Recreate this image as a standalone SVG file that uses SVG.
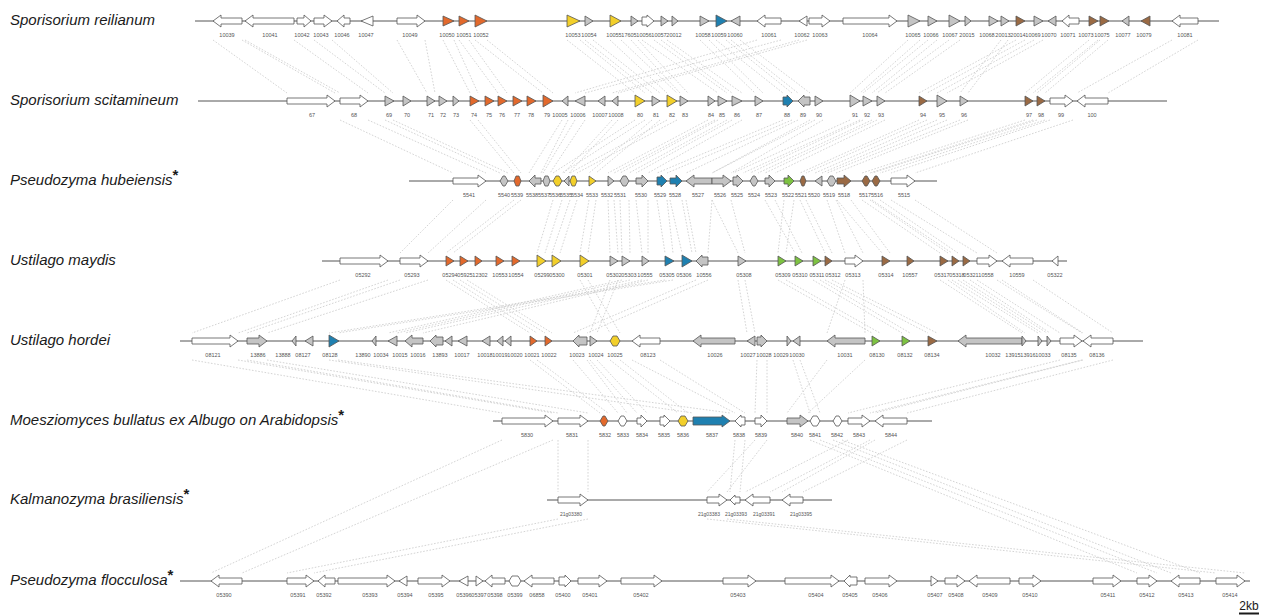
<svg xmlns="http://www.w3.org/2000/svg" width="1266" height="616" viewBox="0 0 1266 616">
<style>
.bg{fill:#fff}
.ln{stroke:#555;stroke-width:1}
.gene path{stroke:#555;stroke-width:0.8;stroke-linejoin:miter}
.w{fill:#fff}.gr{fill:#c4c4c4}.o{fill:#e2692c}.y{fill:#f2cf2a}.b{fill:#1f80b0}.gn{fill:#7dc242}.br{fill:#9a6a44}
.lb{font-family:"Liberation Sans",Arial,sans-serif;font-size:5.5px;fill:#555;text-anchor:middle}
.lb7{font-size:5px}
.sp{font-family:"Liberation Sans",Arial,sans-serif;font-size:15px;font-style:italic;fill:#1a1a1a}
.ast{font-style:normal;font-weight:bold}
.cn{stroke:#c9c9c9;stroke-width:0.8;stroke-dasharray:1.6 1.6;fill:none}
.sc{font-family:"Liberation Sans",Arial,sans-serif;font-size:12px;fill:#1a1a1a;text-anchor:middle}
</style>
<rect class="bg" x="0" y="0" width="1266" height="616"/>
<g id="connectors">
<path class="cn" d="M213,40L287,93M242,40L335,93M245,40L340,93M294,40L368,93M314,40L385,93M332,40L393,93M397,40L427,93M425,40L435,93M443,40L470,93M454,40L478,93M459,40L498,93M469,40L507,93M475,40L543,93M487,40L553,93M567,40L635,93M580,40L645,93M585,40L652,93M593,40L660,93M610,40L667,93M621,40L677,93M631,40L680,93M638,40L688,93M642,40L718,93M654,40L727,93M661,40L732,93M667,40L742,93M700,40L755,93M709,40L763,93M716,40L783,93M726,40L792,93M731,40L798,93M740,40L810,93M757,40L575,93M781,40L585,93M799,40L612,93M807,40L618,93M908,40L850,93M920,40L860,93M928,40L863,93M937,40L872,93M949,40L877,93M960,40L885,93M1001,40L960,93M1008,40L968,93M1016,40L919,93M1025,40L927,93M1034,40L937,93M1043,40L947,93M1089,40L1025,93M1098,40L1033,93M1100,40L1037,93M1108,40L1045,93M1172,40L1077,93M1198,40L1108,93"/>
<path class="cn" d="M340,120L453,173M368,120L486,173M385,120L500,173M393,120L508,173M470,120L514,173M478,120L521,173M562,120L529,173M568,120L541,173M575,120L543,173M585,120L550,173M635,120L553,173M645,120L562,173M612,120L564,173M618,120L569,173M667,120L570,173M677,120L577,173M652,120L589,173M660,120L596,173M708,120L608,173M715,120L614,173M718,120L620,173M727,120L629,173M732,120L636,173M742,120L648,173M783,120L657,173M792,120L667,173M798,120L686,173M810,120L712,173M815,120L712,173M823,120L731,173M850,120L733,173M860,120L743,173M863,120L750,173M872,120L758,173M877,120L765,173M885,120L775,173M919,120L800,173M927,120L806,173M937,120L815,173M947,120L822,173M960,120L827,173M968,120L836,173M1025,120L862,173M1033,120L870,173M1037,120L872,173M1045,120L880,173M1050,120L891,173M1073,120L915,173"/>
<path class="cn" d="M453,200L400,253M486,200L428,253M514,200L446,253M521,200L453,253M553,200L537,253M562,200L545,253M570,200L552,253M577,200L560,253M589,200L580,253M596,200L588,253M608,200L610,253M614,200L618,253M620,200L622,253M629,200L630,253M636,200L642,253M648,200L648,253M657,200L665,253M667,200L673,253M670,200L682,253M682,200L692,253M686,200L696,253M712,200L708,253M712,200L738,253M731,200L745,253M784,200L778,253M794,200L786,253M765,200L795,253M775,200L802,253M800,200L825,253M806,200L832,253M827,200L845,253M836,200L863,253M837,200L882,253M851,200L890,253M862,200L940,253M870,200L948,253M872,200L952,253M880,200L958,253M891,200L977,253M915,200L997,253"/>
<path class="cn" d="M340,280L192,333M388,280L238,333M400,280L247,333M428,280L267,333M446,280L530,333M453,280L537,333M460,280L545,333M467,280L552,333M580,280L610,333M588,280L620,333M665,280L329,333M673,280L338,333M610,280L590,333M618,280L597,333M696,280L573,333M708,280L587,333M622,280L388,333M630,280L397,333M642,280L405,333M648,280L423,333M738,280L747,333M745,280L755,333M778,280L872,333M786,280L880,333M813,280L902,333M820,280L910,333M825,280L928,333M832,280L937,333M845,280L827,333M863,280L865,333M940,280L1022,333M948,280L1025,333M952,280L1038,333M958,280L1042,333M963,280L1047,333M970,280L1050,333M977,280L1060,333M997,280L1082,333M1002,280L1083,333M1033,280L1113,333"/>
<path class="cn" d="M192,360L502,413M238,360L553,413M247,360L558,413M267,360L588,413M530,360L600,413M537,360L608,413M573,360L618,413M587,360L627,413M590,360L637,413M597,360L647,413M610,360L678,413M620,360L688,413M329,360L693,413M338,360L730,413M632,360L735,413M660,360L745,413M757,360L755,413M767,360L767,413M827,360L787,413M865,360L808,413M793,360L810,413M800,360L820,413M1060,360L848,413M1082,360L870,413M1083,360L875,413M1113,360L907,413"/>
<path class="cn" d="M558,440L558,492M588,440L588,492M755,440L707,492M767,440L727,492M735,440L730,492M745,440L740,492M848,440L745,492M870,440L770,492M875,440L782,492M907,440L803,492M502,440L211,573M553,440L242,573M810,440L1137,573M820,440L1157,573M833,440L1171,573M842,440L1200,573"/>
<path class="cn" d="M558,519L287,573M588,519L314,573M707,519L1216,573M727,519L1245,573"/>
</g>
<g id="species">
<text class="sp" x="10" y="25">Sporisorium reilianum</text>
<text class="sp" x="10" y="105">Sporisorium scitamineum</text>
<text class="sp" x="10" y="185">Pseudozyma hubeiensis<tspan class="ast" dy="-5">*</tspan></text>
<text class="sp" x="10" y="265">Ustilago maydis</text>
<text class="sp" x="10" y="345">Ustilago hordei</text>
<text class="sp" x="10" y="425">Moesziomyces bullatus ex Albugo on Arabidopsis<tspan class="ast" dy="-5">*</tspan></text>
<text class="sp" x="10" y="504">Kalmanozyma brasiliensis<tspan class="ast" dy="-5">*</tspan></text>
<text class="sp" x="10" y="585">Pseudozyma flocculosa<tspan class="ast" dy="-5">*</tspan></text>
</g>
<g id="row1" transform="translate(0,21)">
<line class="ln" x1="195" y1="0" x2="1219" y2="0"/>
<g id="r1-10039" class="gene"><path class="w" d="M213,0L221,-6V-3H242V3H221V6Z"/><text class="lb" x="227" y="16">10039</text></g>
<g id="r1-10041" class="gene"><path class="w" d="M245,0L253,-6V-3H294V3H253V6Z"/><text class="lb" x="270" y="16">10041</text></g>
<g id="r1-10042" class="gene"><path class="w" d="M297,-3H304V-6L311,0L304,6V3H297Z"/><text class="lb" x="302" y="16">10042</text></g>
<g id="r1-10043" class="gene"><path class="w" d="M314,-3H324V-6L332,0L324,6V3H314Z"/><text class="lb" x="321" y="16">10043</text></g>
<g id="r1-10046" class="gene"><path class="w" d="M337,0L344,-6V-3H350V3H344V6Z"/><text class="lb" x="342" y="16">10046</text></g>
<g id="r1-10047" class="gene"><path class="w" d="M373,-5L361,0L373,5Z"/><text class="lb" x="366" y="16">10047</text></g>
<g id="r1-10049" class="gene"><path class="w" d="M397,-3H417V-6L425,0L417,6V3H397Z"/><text class="lb" x="410" y="16">10049</text></g>
<g id="r1-10050" class="gene"><path class="o" d="M443,-5L454,0L443,5Z"/><text class="lb" x="447" y="16">10050</text></g>
<g id="r1-10051" class="gene"><path class="o" d="M459,-5L469,0L459,5Z"/><text class="lb" x="464" y="16">10051</text></g>
<g id="r1-10052" class="gene"><path class="o" d="M475,-6L487,0L475,6Z"/><text class="lb" x="481" y="16">10052</text></g>
<g id="r1-10053" class="gene"><path class="y" d="M567,-6L580,0L567,6Z"/><text class="lb" x="573" y="16">10053</text></g>
<g id="r1-10054" class="gene"><path class="gr" d="M585,-5L593,0L585,5Z"/><text class="lb" x="589" y="16">10054</text></g>
<g id="r1-10055" class="gene"><path class="y" d="M610,-6L621,0L610,6Z"/><text class="lb" x="614" y="16">10055</text></g>
<g id="r1-17605" class="gene"><path class="gr" d="M631,-5L638,0L631,5Z"/><text class="lb" x="629" y="16">17605</text></g>
<g id="r1-10056" class="gene"><path class="w" d="M642,-4H647V-6L654,0L647,6V4H642Z"/><text class="lb" x="644" y="16">10056</text></g>
<g id="r1-10057" class="gene"><path class="gr" d="M661,-5L668,0L661,5Z"/><text class="lb" x="659" y="16">10057</text></g>
<g id="r1-20012" class="gene"><path class="gr" d="M672,-5L678,0L672,5Z"/><text class="lb" x="674" y="16">20012</text></g>
<g id="r1-10058" class="gene"><path class="gr" d="M700,-5L709,0L700,5Z"/><text class="lb" x="703" y="16">10058</text></g>
<g id="r1-10059" class="gene"><path class="b" d="M716,-6L727,0L716,6Z"/><text class="lb" x="719" y="16">10059</text></g>
<g id="r1-10060" class="gene"><path class="gr" d="M740,-5L731,0L740,5Z"/><text class="lb" x="735" y="16">10060</text></g>
<g id="r1-10061" class="gene"><path class="w" d="M757,0L765,-6V-3H781V3H765V6Z"/><text class="lb" x="769" y="16">10061</text></g>
<g id="r1-10062" class="gene"><path class="w" d="M807,-5L799,0L807,5Z"/><text class="lb" x="802" y="16">10062</text></g>
<g id="r1-10063" class="gene"><path class="w" d="M809,-3H822V-6L830,0L822,6V3H809Z"/><text class="lb" x="820" y="16">10063</text></g>
<g id="r1-10064" class="gene"><path class="w" d="M843,-3H889V-6L897,0L889,6V3H843Z"/><text class="lb" x="870" y="16">10064</text></g>
<g id="r1-10065" class="gene"><path class="gr" d="M908,-6L920,0L908,6Z"/><text class="lb" x="913" y="16">10065</text></g>
<g id="r1-10066" class="gene"><path class="gr" d="M928,-5L937,0L928,5Z"/><text class="lb" x="931" y="16">10066</text></g>
<g id="r1-10067" class="gene"><path class="gr" d="M949,-6L960,0L949,6Z"/><text class="lb" x="950" y="16">10067</text></g>
<g id="r1-20015" class="gene"><path class="gr" d="M965,-5L971,0L965,5Z"/><text class="lb" x="967" y="16">20015</text></g>
<g id="r1-10068" class="gene"><path class="gr" d="M989,-5L998,0L989,5Z"/><text class="lb" x="987" y="16">10068</text></g>
<g id="r1-20013" class="gene"><path class="gr" d="M1001,-5L1009,0L1001,5Z"/><text class="lb" x="1003" y="16">20013</text></g>
<g id="r1-20014" class="gene"><path class="br" d="M1016,-5L1025,0L1016,5Z"/><text class="lb" x="1018" y="16">20014</text></g>
<g id="r1-10069" class="gene"><path class="gr" d="M1034,-5L1043,0L1034,5Z"/><text class="lb" x="1033" y="16">10069</text></g>
<g id="r1-10070" class="gene"><path class="gr" d="M1056,-5L1048,0L1056,5Z"/><text class="lb" x="1049" y="16">10070</text></g>
<g id="r1-10071" class="gene"><path class="w" d="M1062,0L1069,-6V-3H1079V3H1069V6Z"/><text class="lb" x="1068" y="16">10071</text></g>
<g id="r1-10073" class="gene"><path class="br" d="M1089,-5L1098,0L1089,5Z"/><text class="lb" x="1086" y="16">10073</text></g>
<g id="r1-10075" class="gene"><path class="br" d="M1100,-5L1109,0L1100,5Z"/><text class="lb" x="1102" y="16">10075</text></g>
<g id="r1-10077" class="gene"><path class="gr" d="M1129,-5L1122,0L1129,5Z"/><text class="lb" x="1123" y="16">10077</text></g>
<g id="r1-10079" class="gene"><path class="br" d="M1150,-5L1141,0L1150,5Z"/><text class="lb" x="1144" y="16">10079</text></g>
<g id="r1-10081" class="gene"><path class="w" d="M1172,0L1180,-6V-3H1198V3H1180V6Z"/><text class="lb" x="1185" y="16">10081</text></g>
</g>
<g id="row2" transform="translate(0,101)">
<line class="ln" x1="198" y1="0" x2="1167" y2="0"/>
<g id="r2-67" class="gene"><path class="w" d="M287,-3H327V-6L335,0L327,6V3H287Z"/><text class="lb" x="312" y="16">67</text></g>
<g id="r2-68" class="gene"><path class="w" d="M340,-3H360V-6L368,0L360,6V3H340Z"/><text class="lb" x="354" y="16">68</text></g>
<g id="r2-69" class="gene"><path class="gr" d="M385,-5L394,0L385,5Z"/><text class="lb" x="389" y="16">69</text></g>
<g id="r2-70" class="gene"><path class="gr" d="M403,-5L411,0L403,5Z"/><text class="lb" x="407" y="16">70</text></g>
<g id="r2-71" class="gene"><path class="gr" d="M427,-5L435,0L427,5Z"/><text class="lb" x="431" y="16">71</text></g>
<g id="r2-72" class="gene"><path class="gr" d="M439,-5L447,0L439,5Z"/><text class="lb" x="443" y="16">72</text></g>
<g id="r2-73" class="gene"><path class="gr" d="M453,-5L459,0L453,5Z"/><text class="lb" x="456" y="16">73</text></g>
<g id="r2-74" class="gene"><path class="o" d="M470,-5L479,0L470,5Z"/><text class="lb" x="474" y="16">74</text></g>
<g id="r2-75" class="gene"><path class="o" d="M485,-5L494,0L485,5Z"/><text class="lb" x="489" y="16">75</text></g>
<g id="r2-76" class="gene"><path class="o" d="M498,-5L507,0L498,5Z"/><text class="lb" x="502" y="16">76</text></g>
<g id="r2-77" class="gene"><path class="o" d="M513,-5L522,0L513,5Z"/><text class="lb" x="517" y="16">77</text></g>
<g id="r2-78" class="gene"><path class="o" d="M527,-5L536,0L527,5Z"/><text class="lb" x="531" y="16">78</text></g>
<g id="r2-79" class="gene"><path class="o" d="M543,-6L553,0L543,6Z"/><text class="lb" x="547" y="16">79</text></g>
<g id="r2-10005" class="gene"><path class="gr" d="M568,-5L562,0L568,5Z"/><text class="lb" x="560" y="16">10005</text></g>
<g id="r2-10006" class="gene"><path class="gr" d="M585,-5L575,0L585,5Z"/><text class="lb" x="578" y="16">10006</text></g>
<g id="r2-10007" class="gene"><path class="gr" d="M605,-5L598,0L605,5Z"/><text class="lb" x="600" y="16">10007</text></g>
<g id="r2-10008" class="gene"><path class="gr" d="M618,-5L612,0L618,5Z"/><text class="lb" x="616" y="16">10008</text></g>
<g id="r2-80" class="gene"><path class="y" d="M635,-6L645,0L635,6Z"/><text class="lb" x="640" y="16">80</text></g>
<g id="r2-81" class="gene"><path class="gr" d="M652,-5L660,0L652,5Z"/><text class="lb" x="656" y="16">81</text></g>
<g id="r2-82" class="gene"><path class="y" d="M667,-6L677,0L667,6Z"/><text class="lb" x="672" y="16">82</text></g>
<g id="r2-83" class="gene"><path class="gr" d="M680,-5L688,0L680,5Z"/><text class="lb" x="685" y="16">83</text></g>
<g id="r2-84" class="gene"><path class="gr" d="M708,-5L715,0L708,5Z"/><text class="lb" x="711" y="16">84</text></g>
<g id="r2-85" class="gene"><path class="gr" d="M718,-5L727,0L718,5Z"/><text class="lb" x="722" y="16">85</text></g>
<g id="r2-86" class="gene"><path class="gr" d="M732,-5L742,0L732,5Z"/><text class="lb" x="737" y="16">86</text></g>
<g id="r2-87" class="gene"><path class="gr" d="M755,-5L763,0L755,5Z"/><text class="lb" x="759" y="16">87</text></g>
<g id="r2-88" class="gene"><path class="b" d="M783,-4H787V-6L793,0L787,6V4H783Z"/><text class="lb" x="787" y="16">88</text></g>
<g id="r2-89" class="gene"><path class="gr" d="M798,0L804,-6V-4H810V4H804V6Z"/><text class="lb" x="803" y="16">89</text></g>
<g id="r2-90" class="gene"><path class="gr" d="M815,-5L823,0L815,5Z"/><text class="lb" x="819" y="16">90</text></g>
<g id="r2-91" class="gene"><path class="gr" d="M850,-6L860,0L850,6Z"/><text class="lb" x="855" y="16">91</text></g>
<g id="r2-92" class="gene"><path class="gr" d="M863,-5L872,0L863,5Z"/><text class="lb" x="867" y="16">92</text></g>
<g id="r2-93" class="gene"><path class="gr" d="M877,-5L885,0L877,5Z"/><text class="lb" x="881" y="16">93</text></g>
<g id="r2-94" class="gene"><path class="br" d="M919,-5L927,0L919,5Z"/><text class="lb" x="923" y="16">94</text></g>
<g id="r2-95" class="gene"><path class="gr" d="M937,-6L947,0L937,6Z"/><text class="lb" x="942" y="16">95</text></g>
<g id="r2-96" class="gene"><path class="gr" d="M960,-5L968,0L960,5Z"/><text class="lb" x="964" y="16">96</text></g>
<g id="r2-97" class="gene"><path class="br" d="M1025,-5L1033,0L1025,5Z"/><text class="lb" x="1029" y="16">97</text></g>
<g id="r2-98" class="gene"><path class="br" d="M1037,-5L1045,0L1037,5Z"/><text class="lb" x="1041" y="16">98</text></g>
<g id="r2-99" class="gene"><path class="w" d="M1050,-3H1065V-6L1073,0L1065,6V3H1050Z"/><text class="lb" x="1061" y="16">99</text></g>
<g id="r2-100" class="gene"><path class="w" d="M1077,0L1085,-6V-3H1108V3H1085V6Z"/><text class="lb" x="1092" y="16">100</text></g>
</g>
<g id="row3" transform="translate(0,181)">
<line class="ln" x1="409" y1="0" x2="937" y2="0"/>
<g id="r3-5541" class="gene"><path class="w" d="M453,-3H478V-6L486,0L478,6V3H453Z"/><text class="lb" x="469" y="16">5541</text></g>
<g id="r3-5540" class="gene"><path class="gr" d="M500,0L503,-5H505L508,0L505,5H503Z"/><text class="lb" x="504" y="16">5540</text></g>
<g id="r3-5539" class="gene"><path class="o" d="M514,0L516,-5H519L521,0L519,5H516Z"/><text class="lb" x="517" y="16">5539</text></g>
<g id="r3-5538" class="gene"><path class="gr" d="M529,0L535,-6V-3H541V3H535V6Z"/><text class="lb" x="532" y="16">5538</text></g>
<g id="r3-5537" class="gene"><path class="gr" d="M543,0L545,-5H548L550,0L548,5H545Z"/><text class="lb" x="544" y="16">5537</text></g>
<g id="r3-5536" class="gene"><path class="y" d="M553,0L556,-5H559L562,0L559,5H556Z"/><text class="lb" x="555" y="16">5536</text></g>
<g id="r3-5535" class="gene"><path class="gr" d="M569,-5L564,0L569,5Z"/><text class="lb" x="566" y="16">5535</text></g>
<g id="r3-5534" class="gene"><path class="y" d="M570,0L572,-5H575L577,0L575,5H572Z"/><text class="lb" x="577" y="16">5534</text></g>
<g id="r3-5533" class="gene"><path class="y" d="M589,-5L596,0L589,5Z"/><text class="lb" x="592" y="16">5533</text></g>
<g id="r3-5532" class="gene"><path class="gr" d="M608,-5L614,0L608,5Z"/><text class="lb" x="607" y="16">5532</text></g>
<g id="r3-5531" class="gene"><path class="gr" d="M620,0L623,-5H626L629,0L626,5H623Z"/><text class="lb" x="620" y="16">5531</text></g>
<g id="r3-5530" class="gene"><path class="gr" d="M636,-3H642V-6L648,0L642,6V3H636Z"/><text class="lb" x="641" y="16">5530</text></g>
<g id="r3-5529" class="gene"><path class="b" d="M657,-4H661V-6L667,0L661,6V4H657Z"/><text class="lb" x="660" y="16">5529</text></g>
<g id="r3-5528" class="gene"><path class="b" d="M670,-3H676V-6L682,0L676,6V3H670Z"/><text class="lb" x="675" y="16">5528</text></g>
<g id="r3-5527" class="gene"><path class="gr" d="M686,0L694,-6V-3H712V3H694V6Z"/><text class="lb" x="698" y="16">5527</text></g>
<g id="r3-5526" class="gene"><path class="gr" d="M712,-3H723V-6L731,0L723,6V3H712Z"/><text class="lb" x="720" y="16">5526</text></g>
<g id="r3-5525" class="gene"><path class="gr" d="M733,-4H737V-6L743,0L737,6V4H733Z"/><text class="lb" x="737" y="16">5525</text></g>
<g id="r3-5524" class="gene"><path class="gr" d="M750,0L753,-5H755L758,0L755,5H753Z"/><text class="lb" x="754" y="16">5524</text></g>
<g id="r3-5523" class="gene"><path class="gr" d="M765,-3H769V-6L775,0L769,6V3H765Z"/><text class="lb" x="771" y="16">5523</text></g>
<g id="r3-5522" class="gene"><path class="gn" d="M784,-3H788V-6L794,0L788,6V3H784Z"/><text class="lb" x="788" y="16">5522</text></g>
<g id="r3-5521" class="gene"><path class="br" d="M800,0L802,-5H804L806,0L804,5H802Z"/><text class="lb" x="801" y="16">5521</text></g>
<g id="r3-5520" class="gene"><path class="gr" d="M822,-5L815,0L822,5Z"/><text class="lb" x="814" y="16">5520</text></g>
<g id="r3-5519" class="gene"><path class="gr" d="M827,0L830,-5H833L836,0L833,5H830Z"/><text class="lb" x="829" y="16">5519</text></g>
<g id="r3-5518" class="gene"><path class="br" d="M837,-3H844V-6L851,0L844,6V3H837Z"/><text class="lb" x="844" y="16">5518</text></g>
<g id="r3-5517" class="gene"><path class="br" d="M862,0L865,-5H867L870,0L867,5H865Z"/><text class="lb" x="865" y="16">5517</text></g>
<g id="r3-5516" class="gene"><path class="br" d="M872,0L875,-5H877L880,0L877,5H875Z"/><text class="lb" x="877" y="16">5516</text></g>
<g id="r3-5515" class="gene"><path class="w" d="M891,-3H907V-6L915,0L907,6V3H891Z"/><text class="lb" x="904" y="16">5515</text></g>
</g>
<g id="row4" transform="translate(0,261)">
<line class="ln" x1="322" y1="0" x2="1067" y2="0"/>
<g id="r4-05292" class="gene"><path class="w" d="M340,-3H380V-6L388,0L380,6V3H340Z"/><text class="lb" x="363" y="16">05292</text></g>
<g id="r4-05293" class="gene"><path class="w" d="M400,-3H420V-6L428,0L420,6V3H400Z"/><text class="lb" x="412" y="16">05293</text></g>
<g id="r4-05294" class="gene"><path class="o" d="M446,-5L454,0L446,5Z"/><text class="lb" x="450" y="16">05294</text></g>
<g id="r4-05925" class="gene"><path class="o" d="M460,-5L468,0L460,5Z"/><text class="lb" x="465" y="16">05925</text></g>
<g id="r4-12302" class="gene"><path class="o" d="M475,-5L482,0L475,5Z"/><text class="lb" x="480" y="16">12302</text></g>
<g id="r4-10553" class="gene"><path class="o" d="M496,-5L504,0L496,5Z"/><text class="lb" x="500" y="16">10553</text></g>
<g id="r4-10554" class="gene"><path class="o" d="M512,-5L520,0L512,5Z"/><text class="lb" x="516" y="16">10554</text></g>
<g id="r4-05299" class="gene"><path class="y" d="M537,-6L546,0L537,6Z"/><text class="lb" x="542" y="16">05299</text></g>
<g id="r4-05300" class="gene"><path class="y" d="M552,-6L561,0L552,6Z"/><text class="lb" x="557" y="16">05300</text></g>
<g id="r4-05301" class="gene"><path class="y" d="M580,-6L589,0L580,6Z"/><text class="lb" x="585" y="16">05301</text></g>
<g id="r4-05302" class="gene"><path class="gr" d="M610,-5L618,0L610,5Z"/><text class="lb" x="614" y="16">05302</text></g>
<g id="r4-05303" class="gene"><path class="gr" d="M622,-5L630,0L622,5Z"/><text class="lb" x="629" y="16">05303</text></g>
<g id="r4-10555" class="gene"><path class="gr" d="M642,-5L649,0L642,5Z"/><text class="lb" x="645" y="16">10555</text></g>
<g id="r4-05305" class="gene"><path class="b" d="M665,-5L674,0L665,5Z"/><text class="lb" x="667" y="16">05305</text></g>
<g id="r4-05306" class="gene"><path class="b" d="M682,-6L692,0L682,6Z"/><text class="lb" x="684" y="16">05306</text></g>
<g id="r4-10556" class="gene"><path class="gr" d="M696,0L702,-6V-4H708V4H702V6Z"/><text class="lb" x="704" y="16">10556</text></g>
<g id="r4-05308" class="gene"><path class="gr" d="M738,-5L746,0L738,5Z"/><text class="lb" x="744" y="16">05308</text></g>
<g id="r4-05309" class="gene"><path class="gn" d="M778,-5L786,0L778,5Z"/><text class="lb" x="783" y="16">05309</text></g>
<g id="r4-05310" class="gene"><path class="gn" d="M795,-5L803,0L795,5Z"/><text class="lb" x="800" y="16">05310</text></g>
<g id="r4-05311" class="gene"><path class="gn" d="M813,-5L821,0L813,5Z"/><text class="lb" x="817" y="16">05311</text></g>
<g id="r4-05312" class="gene"><path class="br" d="M825,-5L832,0L825,5Z"/><text class="lb" x="833" y="16">05312</text></g>
<g id="r4-05313" class="gene"><path class="w" d="M845,-3H855V-6L863,0L855,6V3H845Z"/><text class="lb" x="853" y="16">05313</text></g>
<g id="r4-05314" class="gene"><path class="br" d="M882,-5L890,0L882,5Z"/><text class="lb" x="886" y="16">05314</text></g>
<g id="r4-10557" class="gene"><path class="br" d="M907,-5L914,0L907,5Z"/><text class="lb" x="910" y="16">10557</text></g>
<g id="r4-05317" class="gene"><path class="br" d="M940,-5L948,0L940,5Z"/><text class="lb" x="942" y="16">05317</text></g>
<g id="r4-05318" class="gene"><path class="br" d="M952,-5L959,0L952,5Z"/><text class="lb" x="957" y="16">05318</text></g>
<g id="r4-05321" class="gene"><path class="br" d="M963,-5L970,0L963,5Z"/><text class="lb" x="971" y="16">05321</text></g>
<g id="r4-10558" class="gene"><path class="w" d="M977,-3H989V-6L997,0L989,6V3H977Z"/><text class="lb" x="986" y="16">10558</text></g>
<g id="r4-10559" class="gene"><path class="w" d="M1002,0L1010,-6V-3H1033V3H1010V6Z"/><text class="lb" x="1017" y="16">10559</text></g>
<g id="r4-05322" class="gene"><path class="w" d="M1058,-5L1052,0L1058,5Z"/><text class="lb" x="1055" y="16">05322</text></g>
</g>
<g id="row5" transform="translate(0,341)">
<line class="ln" x1="180" y1="0" x2="1143" y2="0"/>
<g id="r5-08121" class="gene"><path class="w" d="M192,-3H230V-6L238,0L230,6V3H192Z"/><text class="lb" x="213" y="16">08121</text></g>
<g id="r5-13886" class="gene"><path class="gr" d="M247,-3H259V-6L267,0L259,6V3H247Z"/><text class="lb" x="258" y="16">13886</text></g>
<g id="r5-13888" class="gene"><path class="gr" d="M296,-5L292,0L296,5Z"/><text class="lb" x="283" y="16">13888</text></g>
<g id="r5-08127" class="gene"><path class="gr" d="M313,-5L305,0L313,5Z"/><text class="lb" x="303" y="16">08127</text></g>
<g id="r5-08128" class="gene"><path class="b" d="M329,-6L339,0L329,6Z"/><text class="lb" x="330" y="16">08128</text></g>
<g id="r5-13890" class="gene"><path class="gr" d="M376,-5L372,0L376,5Z"/><text class="lb" x="363" y="16">13890</text></g>
<g id="r5-10034" class="gene"><path class="gr" d="M397,-5L388,0L397,5Z"/><text class="lb" x="381" y="16">10034</text></g>
<g id="r5-10015" class="gene"><path class="gr" d="M405,0L412,-6V-3H423V3H412V6Z"/><text class="lb" x="400" y="16">10015</text></g>
<g id="r5-10016" class="gene"><path class="gr" d="M430,0L436,-6V-4H443V4H436V6Z"/><text class="lb" x="418" y="16">10016</text></g>
<g id="r5-13893" class="gene"><path class="gr" d="M452,-5L445,0L452,5Z"/><text class="lb" x="440" y="16">13893</text></g>
<g id="r5-10017" class="gene"><path class="gr" d="M467,-5L458,0L467,5Z"/><text class="lb" x="462" y="16">10017</text></g>
<g id="r5-10018" class="gene"><path class="gr" d="M490,-5L482,0L490,5Z"/><text class="lb" x="485" y="16">10018</text></g>
<g id="r5-10019" class="gene"><path class="gr" d="M503,-5L497,0L503,5Z"/><text class="lb" x="500" y="16">10019</text></g>
<g id="r5-10020" class="gene"><path class="gr" d="M511,-5L505,0L511,5Z"/><text class="lb" x="515" y="16">10020</text></g>
<g id="r5-10021" class="gene"><path class="o" d="M530,-5L537,0L530,5Z"/><text class="lb" x="532" y="16">10021</text></g>
<g id="r5-10022" class="gene"><path class="o" d="M545,-5L552,0L545,5Z"/><text class="lb" x="549" y="16">10022</text></g>
<g id="r5-10023" class="gene"><path class="gr" d="M573,0L579,-6V-4H587V4H579V6Z"/><text class="lb" x="577" y="16">10023</text></g>
<g id="r5-10024" class="gene"><path class="gr" d="M590,-5L597,0L590,5Z"/><text class="lb" x="596" y="16">10024</text></g>
<g id="r5-10025" class="gene"><path class="y" d="M610,0L613,-5H617L620,0L617,5H613Z"/><text class="lb" x="615" y="16">10025</text></g>
<g id="r5-08123" class="gene"><path class="w" d="M632,0L640,-6V-3H660V3H640V6Z"/><text class="lb" x="648" y="16">08123</text></g>
<g id="r5-10026" class="gene"><path class="gr" d="M693,0L701,-6V-3H735V3H701V6Z"/><text class="lb" x="715" y="16">10026</text></g>
<g id="r5-10027" class="gene"><path class="gr" d="M755,-5L747,0L755,5Z"/><text class="lb" x="748" y="16">10027</text></g>
<g id="r5-10028" class="gene"><path class="gr" d="M757,-4H761V-6L767,0L761,6V4H757Z"/><text class="lb" x="764" y="16">10028</text></g>
<g id="r5-10029" class="gene"><path class="gr" d="M787,-5L791,0L787,5Z"/><text class="lb" x="781" y="16">10029</text></g>
<g id="r5-10030" class="gene"><path class="gr" d="M800,-5L793,0L800,5Z"/><text class="lb" x="797" y="16">10030</text></g>
<g id="r5-10031" class="gene"><path class="gr" d="M827,0L835,-6V-3H865V3H835V6Z"/><text class="lb" x="845" y="16">10031</text></g>
<g id="r5-08130" class="gene"><path class="gn" d="M872,-5L880,0L872,5Z"/><text class="lb" x="877" y="16">08130</text></g>
<g id="r5-08132" class="gene"><path class="gn" d="M902,-5L910,0L902,5Z"/><text class="lb" x="905" y="16">08132</text></g>
<g id="r5-08134" class="gene"><path class="br" d="M928,-5L937,0L928,5Z"/><text class="lb" x="932" y="16">08134</text></g>
<g id="r5-10032" class="gene"><path class="gr" d="M958,0L966,-6V-3H1022V3H966V6Z"/><text class="lb" x="993" y="16">10032</text></g>
<g id="r5-13915" class="gene"><path class="gr" d="M1022,-5L1026,0L1022,5Z"/><text class="lb" x="1013" y="16">13915</text></g>
<g id="r5-13916" class="gene"><path class="gr" d="M1038,-5L1042,0L1038,5Z"/><text class="lb" x="1028" y="16">13916</text></g>
<g id="r5-10033" class="gene"><path class="gr" d="M1047,-5L1051,0L1047,5Z"/><text class="lb" x="1043" y="16">10033</text></g>
<g id="r5-08135" class="gene"><path class="w" d="M1060,-3H1074V-6L1082,0L1074,6V3H1060Z"/><text class="lb" x="1069" y="16">08135</text></g>
<g id="r5-08136" class="gene"><path class="w" d="M1083,0L1091,-6V-3H1113V3H1091V6Z"/><text class="lb" x="1097" y="16">08136</text></g>
</g>
<g id="row6" transform="translate(0,421)">
<line class="ln" x1="493" y1="0" x2="932" y2="0"/>
<g id="r6-5830" class="gene"><path class="w" d="M502,-3H545V-6L553,0L545,6V3H502Z"/><text class="lb" x="527" y="16">5830</text></g>
<g id="r6-5831" class="gene"><path class="w" d="M558,-3H580V-6L588,0L580,6V3H558Z"/><text class="lb" x="572" y="16">5831</text></g>
<g id="r6-5832" class="gene"><path class="o" d="M600,0L603,-5H605L608,0L605,5H603Z"/><text class="lb" x="605" y="16">5832</text></g>
<g id="r6-5833" class="gene"><path class="w" d="M618,0L621,-5H624L627,0L624,5H621Z"/><text class="lb" x="623" y="16">5833</text></g>
<g id="r6-5834" class="gene"><path class="w" d="M637,-3H641V-6L647,0L641,6V3H637Z"/><text class="lb" x="642" y="16">5834</text></g>
<g id="r6-5835" class="gene"><path class="w" d="M660,-4H664V-6L670,0L664,6V4H660Z"/><text class="lb" x="664" y="16">5835</text></g>
<g id="r6-5836" class="gene"><path class="y" d="M678,0L681,-5H685L688,0L685,5H681Z"/><text class="lb" x="683" y="16">5836</text></g>
<g id="r6-5837" class="gene"><path class="b" d="M693,-4H722V-6L730,0L722,6V4H693Z"/><text class="lb" x="712" y="16">5837</text></g>
<g id="r6-5838" class="gene"><path class="w" d="M735,0L741,-6V-4H745V4H741V6Z"/><text class="lb" x="739" y="16">5838</text></g>
<g id="r6-5839" class="gene"><path class="w" d="M755,-3H761V-6L767,0L761,6V3H755Z"/><text class="lb" x="761" y="16">5839</text></g>
<g id="r6-5840" class="gene"><path class="gr" d="M787,-3H800V-6L808,0L800,6V3H787Z"/><text class="lb" x="797" y="16">5840</text></g>
<g id="r6-5841" class="gene"><path class="w" d="M810,0L813,-5H817L820,0L817,5H813Z"/><text class="lb" x="815" y="16">5841</text></g>
<g id="r6-5842" class="gene"><path class="w" d="M833,0L836,-5H839L842,0L839,5H836Z"/><text class="lb" x="837" y="16">5842</text></g>
<g id="r6-5843" class="gene"><path class="w" d="M848,-3H862V-6L870,0L862,6V3H848Z"/><text class="lb" x="859" y="16">5843</text></g>
<g id="r6-5844" class="gene"><path class="w" d="M875,0L883,-6V-3H907V3H883V6Z"/><text class="lb" x="891" y="16">5844</text></g>
</g>
<g id="row7" transform="translate(0,500)">
<line class="ln" x1="547" y1="0" x2="832" y2="0"/>
<g id="r7-21g03380" class="gene"><path class="w" d="M558,-3H580V-6L588,0L580,6V3H558Z"/><text class="lb lb7" x="571" y="16">21g03380</text></g>
<g id="r7-21g03383" class="gene"><path class="w" d="M707,-3H719V-6L727,0L719,6V3H707Z"/><text class="lb lb7" x="709" y="16">21g03383</text></g>
<g id="r7-21g03393" class="gene"><path class="w" d="M730,0L735,-5V-3H740V3H735V5Z"/><text class="lb lb7" x="736" y="16">21g03393</text></g>
<g id="r7-21g03391" class="gene"><path class="w" d="M745,0L753,-6V-3H770V3H753V6Z"/><text class="lb lb7" x="764" y="16">21g03391</text></g>
<g id="r7-21g03395" class="gene"><path class="w" d="M782,0L790,-6V-3H803V3H790V6Z"/><text class="lb lb7" x="801" y="16">21g03395</text></g>
</g>
<g id="row8" transform="translate(0,581)">
<line class="ln" x1="180" y1="0" x2="1250" y2="0"/>
<g id="r8-05390" class="gene"><path class="w" d="M211,0L219,-6V-3H242V3H219V6Z"/><text class="lb" x="224" y="16">05390</text></g>
<g id="r8-05391" class="gene"><path class="w" d="M287,-3H306V-6L314,0L306,6V3H287Z"/><text class="lb" x="298" y="16">05391</text></g>
<g id="r8-05392" class="gene"><path class="w" d="M318,0L325,-6V-3H335V3H325V6Z"/><text class="lb" x="324" y="16">05392</text></g>
<g id="r8-05393" class="gene"><path class="w" d="M338,-3H387V-6L395,0L387,6V3H338Z"/><text class="lb" x="370" y="16">05393</text></g>
<g id="r8-05394" class="gene"><path class="w" d="M407,-5L399,0L407,5Z"/><text class="lb" x="405" y="16">05394</text></g>
<g id="r8-05395" class="gene"><path class="w" d="M418,-3H442V-6L450,0L442,6V3H418Z"/><text class="lb" x="436" y="16">05395</text></g>
<g id="r8-05396" class="gene"><path class="w" d="M468,-5L459,0L468,5Z"/><text class="lb" x="464" y="16">05396</text></g>
<g id="r8-05397" class="gene"><path class="w" d="M476,-5L483,0L476,5Z"/><text class="lb" x="479" y="16">05397</text></g>
<g id="r8-05398" class="gene"><path class="w" d="M485,0L492,-6V-3H505V3H492V6Z"/><text class="lb" x="495" y="16">05398</text></g>
<g id="r8-05399" class="gene"><path class="w" d="M509,0L512,-5H518L521,0L518,5H512Z"/><text class="lb" x="515" y="16">05399</text></g>
<g id="r8-06858" class="gene"><path class="w" d="M524,0L532,-6V-3H554V3H532V6Z"/><text class="lb" x="537" y="16">06858</text></g>
<g id="r8-05400" class="gene"><path class="w" d="M559,-4H565V-6L571,0L565,6V4H559Z"/><text class="lb" x="563" y="16">05400</text></g>
<g id="r8-05401" class="gene"><path class="w" d="M578,-3H599V-6L607,0L599,6V3H578Z"/><text class="lb" x="590" y="16">05401</text></g>
<g id="r8-05402" class="gene"><path class="w" d="M621,-3H654V-6L662,0L654,6V3H621Z"/><text class="lb" x="641" y="16">05402</text></g>
<g id="r8-05403" class="gene"><path class="w" d="M723,-3H748V-6L756,0L748,6V3H723Z"/><text class="lb" x="738" y="16">05403</text></g>
<g id="r8-05404" class="gene"><path class="w" d="M785,-3H831V-6L839,0L831,6V3H785Z"/><text class="lb" x="816" y="16">05404</text></g>
<g id="r8-05405" class="gene"><path class="w" d="M844,0L850,-6V-4H857V4H850V6Z"/><text class="lb" x="850" y="16">05405</text></g>
<g id="r8-05406" class="gene"><path class="w" d="M865,-3H889V-6L897,0L889,6V3H865Z"/><text class="lb" x="880" y="16">05406</text></g>
<g id="r8-05407" class="gene"><path class="w" d="M931,-5L938,0L931,5Z"/><text class="lb" x="935" y="16">05407</text></g>
<g id="r8-05408" class="gene"><path class="w" d="M945,-3H957V-6L965,0L957,6V3H945Z"/><text class="lb" x="956" y="16">05408</text></g>
<g id="r8-05409" class="gene"><path class="w" d="M969,0L977,-6V-3H1010V3H977V6Z"/><text class="lb" x="990" y="16">05409</text></g>
<g id="r8-05410" class="gene"><path class="w" d="M1019,-3H1033V-6L1041,0L1033,6V3H1019Z"/><text class="lb" x="1030" y="16">05410</text></g>
<g id="r8-05411" class="gene"><path class="w" d="M1093,-3H1113V-6L1121,0L1113,6V3H1093Z"/><text class="lb" x="1108" y="16">05411</text></g>
<g id="r8-05412" class="gene"><path class="w" d="M1137,-3H1149V-6L1157,0L1149,6V3H1137Z"/><text class="lb" x="1147" y="16">05412</text></g>
<g id="r8-05413" class="gene"><path class="w" d="M1171,0L1179,-6V-3H1200V3H1179V6Z"/><text class="lb" x="1186" y="16">05413</text></g>
<g id="r8-05414" class="gene"><path class="w" d="M1216,-3H1237V-6L1245,0L1237,6V3H1216Z"/><text class="lb" x="1230" y="16">05414</text></g>
</g>
<g id="scalebar">
<text class="sc" x="1249" y="610">2kb</text>
<line x1="1239" y1="613.5" x2="1259" y2="613.5" stroke="#1a1a1a" stroke-width="2"/>
</g>
</svg>
